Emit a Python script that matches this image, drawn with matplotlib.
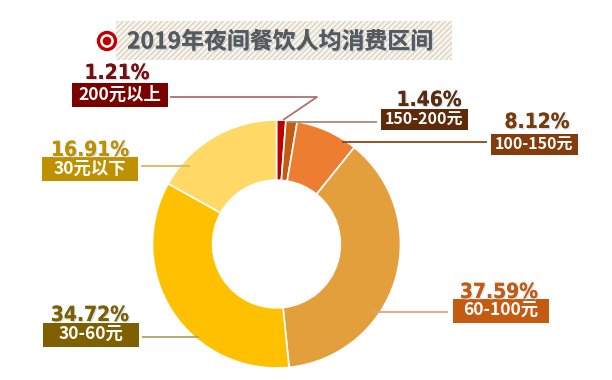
import matplotlib
matplotlib.use("Agg")
import matplotlib.pyplot as plt
from matplotlib.patches import Rectangle, Circle
import matplotlib.patheffects as pe

plt.rcParams['font.family'] = ['Noto Sans CJK SC', 'DejaVu Sans']

# ---- data ----
title = "2019年夜间餐饮人均消费区间"
categories = ["200元以上", "150-200元", "100-150元", "60-100元", "30-60元", "30元以下"]
values = [1.21, 1.46, 8.12, 37.59, 34.72, 16.91]
pct_labels = ["1.21%", "1.46%", "8.12%", "37.59%", "34.72%", "16.91%"]

slice_colors = ["#C00000", "#C55A11", "#ED7D31", "#E49F3D", "#FFC000", "#FFD966"]
box_colors = ["#7B0000", "#5E2A08", "#843C0C", "#C55A11", "#7F6000", "#BF9000"]
pct_colors = ["#7B0C0C", "#5C2B0A", "#7A3A0A", "#C55A11", "#7F6000", "#BF9000"]
line_colors = ["#B07070", "#A88A70", "#8B4513", "#E6A27A", "#B8A060", "#D9B85A"]

W, H = 612, 380
fig = plt.figure(figsize=(W / 100, H / 100), dpi=100)
ax = fig.add_axes([0, 0, 1, 1])

def Y(y):
    return H - y

# ---- donut ----
cx, cy, R = 276.5, 244, 124
ax.pie(values, colors=slice_colors, startangle=90, counterclock=False,
       center=(cx, Y(cy)), radius=R, frame=True,
       wedgeprops=dict(width=R * 0.485, edgecolor='white', linewidth=1.2))
ax.set_xlim(0, W)
ax.set_ylim(0, H)
ax.set_aspect('equal')
ax.axis('off')

# ---- title ----
ax.add_patch(Rectangle((116, Y(60)), 336, 39, facecolor='#F8F5EF',
                       edgecolor='#DCD3C2', hatch='//////', linewidth=0, zorder=1))
ax.add_patch(Circle((107, Y(41)), 8.5, facecolor='white', edgecolor='#C00000', linewidth=2.4, zorder=3))
ax.add_patch(Circle((107, Y(41)), 4.3, facecolor='#C00000', edgecolor='none', zorder=4))
ax.text(127, Y(42), title, fontsize=16.5, fontweight='bold', color='#595959',
        ha='left', va='center', zorder=5,
        path_effects=[pe.withSimplePatchShadow(offset=(1, -1), shadow_rgbFace='#9DC3E6', alpha=0.6),
                      pe.Normal()])

# ---- labels ----
# (pct text center x, y), (box x0, y0, w, h), leader polyline
label_layout = [
    ((117, 73), (72, 83, 96, 24), [(170, 97), (317, 97), (283, 120)]),
    ((429, 100), (381, 109, 87, 21), [(288, 122), (377, 122)]),
    ((537, 122), (491, 134, 87, 21), [(342, 142), (487, 142)]),
    ((499, 292), (453, 299, 96, 24), [(372, 312), (448, 312)]),
    ((90, 315), (43, 323, 96, 24), [(142, 337), (199, 337)]),
    ((90, 150), (42, 157, 96, 24), [(141, 166), (190, 166)]),
]

for i, (cat, pl) in enumerate(zip(categories, pct_labels)):
    (tx, ty), (bx, by, bw, bh), line = label_layout[i]
    xs = [p[0] for p in line]
    ys = [Y(p[1]) for p in line]
    ax.plot(xs, ys, color=line_colors[i], linewidth=1.3, zorder=6, solid_capstyle='butt')
    ax.add_patch(Rectangle((bx, Y(by + bh)), bw, bh, facecolor=box_colors[i],
                           edgecolor='none', zorder=7))
    ax.text(bx + bw / 2, Y(by + bh / 2), cat, fontsize=12.5 if bh > 22 else 11.5,
            fontweight='bold', color='white', ha='center', va='center', zorder=8)
    ax.text(tx, Y(ty), pl, fontsize=15, fontweight='bold', color=pct_colors[i],
            family='DejaVu Sans', fontstretch='condensed', ha='center', va='center', zorder=8,
            path_effects=[pe.withSimplePatchShadow(offset=(1, -1), shadow_rgbFace='#BDD7EE', alpha=0.7),
                          pe.Normal()])

fig.savefig("out.png", dpi=100)
